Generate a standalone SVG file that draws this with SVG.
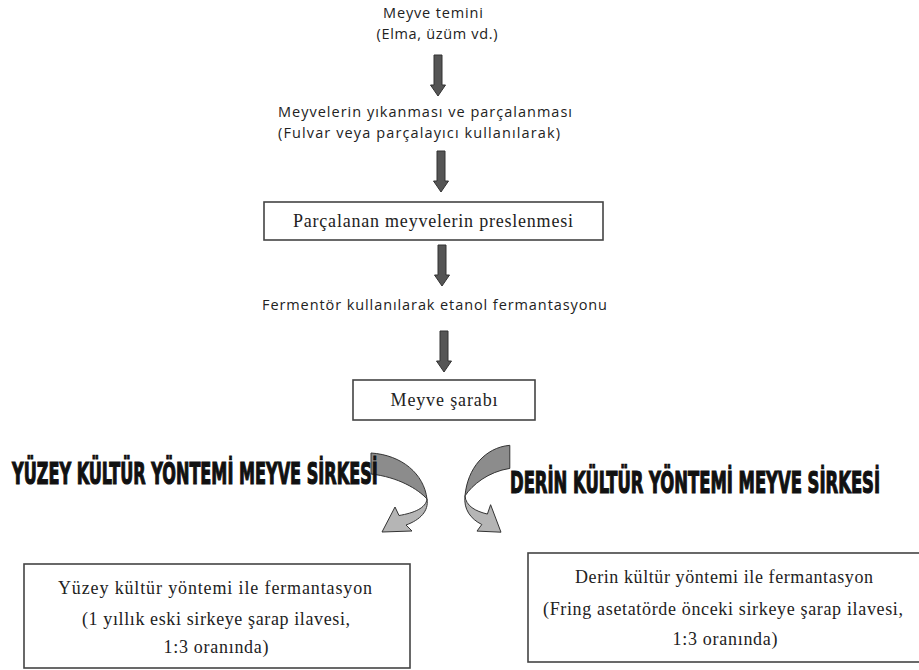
<svg xmlns="http://www.w3.org/2000/svg" width="919" height="670" viewBox="0 0 919 670">
<style>
.sans{font-family:"Open Sans","Noto Sans","DejaVu Sans",sans-serif;font-size:14.5px;fill:#222}
.serif{font-family:"Liberation Serif","Times New Roman",serif;font-size:18px;fill:#222}
.heavy{font-family:"DejaVu Sans Condensed","Liberation Sans Narrow","Liberation Sans",sans-serif;font-weight:bold;font-size:31px;fill:#111;stroke:#111;stroke-width:1.2}
.box{fill:#fff;stroke:#444;stroke-width:1.6}
.darr{fill:#555;stroke:#333;stroke-width:1}
.cu{fill:#8c8c8c;stroke:#333;stroke-width:1;vector-effect:non-scaling-stroke}
.cl{fill:#b5b5b5;stroke:#333;stroke-width:1;vector-effect:non-scaling-stroke}
</style>
<defs>
<path id="down" class="darr" d="M-4,0 H4 V30 H7.5 L0,41 L-7.5,30 H-4 Z"/>
<g id="curve">
<path class="cu" d="M371,453 C402,455 424,474 427,499 C418,489 398,477 371,474 Z"/>
<path class="cl" d="M427,499 C426,508 414,513 399,515.5 L395,507 L382,532 L412,531 L406,525 C420,520 429,511 427,499 Z"/>
</g>
</defs>
<rect width="919" height="670" fill="#fff"/>
<g id="connectors">
<use href="#down" x="438" y="55"/>
<use href="#down" x="441" y="151"/>
<use href="#down" x="442" y="245"/>
<use href="#down" x="444" y="331"/>
<use href="#curve"/>
<use href="#curve" transform="matrix(-0.8,0,0,1.1,806.6,-53)"/>
</g>
<g id="n1">
<text class="sans" x="433" y="18" text-anchor="middle" textLength="100">Meyve temini</text>
<text class="sans" x="437" y="39" text-anchor="middle" textLength="121">(Elma, üzüm vd.)</text>
</g>
<g id="n2">
<text class="sans" x="278" y="117" textLength="294">Meyvelerin yıkanması ve parçalanması</text>
<text class="sans" x="278" y="138" textLength="282">(Fulvar veya parçalayıcı kullanılarak)</text>
</g>
<g id="n3">
<rect class="box" x="264" y="202" width="339" height="38"/>
<text class="serif" x="433" y="227" text-anchor="middle" textLength="280">Parçalanan meyvelerin preslenmesi</text>
</g>
<g id="n4">
<text class="sans" x="262" y="310" textLength="345">Fermentör kullanılarak etanol fermantasyonu</text>
</g>
<g id="n5">
<rect class="box" x="353" y="380" width="182" height="40"/>
<text class="serif" x="444" y="406" text-anchor="middle" textLength="107">Meyve şarabı</text>
</g>
<g id="n6" transform="translate(12,484) scale(0.567,1)">
<text class="heavy" x="0" y="0" textLength="645" lengthAdjust="spacingAndGlyphs">YÜZEY KÜLTÜR YÖNTEMİ MEYVE SİRKESİ</text>
</g>
<g id="n7" transform="translate(510,493) scale(0.58,1)">
<text class="heavy" x="0" y="0" textLength="638" lengthAdjust="spacingAndGlyphs">DERİN KÜLTÜR YÖNTEMİ MEYVE SİRKESİ</text>
</g>
<g id="n8">
<rect class="box" x="24" y="564" width="386" height="104"/>
<text class="serif" x="215" y="594" text-anchor="middle" textLength="314">Yüzey kültür yöntemi ile fermantasyon</text>
<text class="serif" x="216" y="625" text-anchor="middle" textLength="268">(1 yıllık eski sirkeye şarap ilavesi,</text>
<text class="serif" x="216" y="653" text-anchor="middle" textLength="105">1:3 oranında)</text>
</g>
<g id="n9">
<rect class="box" x="528" y="553" width="393" height="109"/>
<text class="serif" x="724" y="583" text-anchor="middle" textLength="298">Derin kültür yöntemi ile fermantasyon</text>
<text class="serif" x="723" y="615" text-anchor="middle" textLength="360">(Fring asetatörde önceki sirkeye şarap ilavesi,</text>
<text class="serif" x="725" y="645" text-anchor="middle" textLength="105">1:3 oranında)</text>
</g>
</svg>
